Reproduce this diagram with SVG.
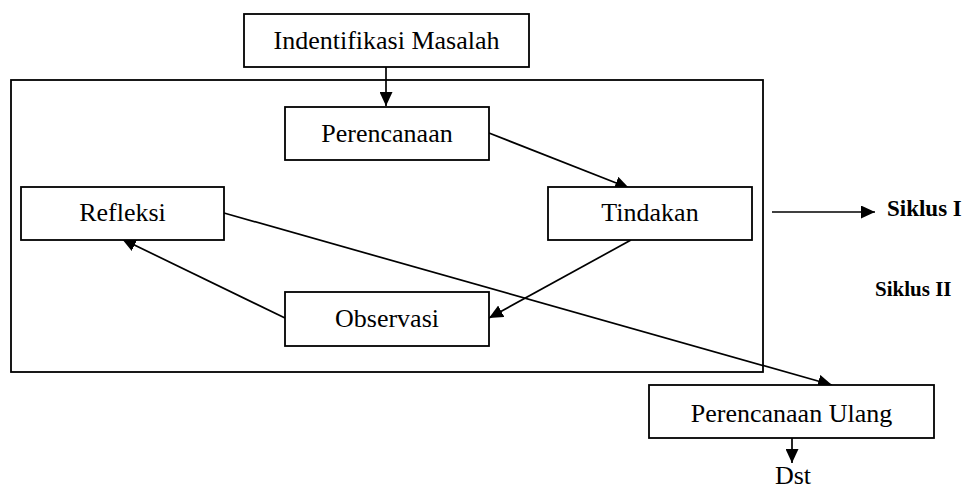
<svg xmlns="http://www.w3.org/2000/svg" width="967" height="489" viewBox="0 0 967 489">
<style>
.box{fill:#fff;stroke:#000;stroke-width:1.8}
.frame{fill:none;stroke:#000;stroke-width:1.8}
.t{font-family:"Liberation Serif","Times New Roman",serif;font-size:26px;fill:#000;text-anchor:middle}
.b{font-family:"Liberation Serif","Times New Roman",serif;font-weight:bold;fill:#000}
.c{stroke:#000;stroke-width:1.7;fill:none;marker-end:url(#ah)}
</style>
<defs>
<marker id="ah" markerUnits="userSpaceOnUse" markerWidth="15" markerHeight="13" refX="14" refY="6.5" orient="auto">
<path d="M0,0 L14,6.5 L0,13 z" fill="#000"/>
</marker>
</defs>
<rect width="967" height="489" fill="#fff"/>
<rect id="frame" class="frame" x="11" y="80" width="752" height="292"/>
<g id="connectors">
<line class="c" x1="386" y1="67" x2="386" y2="106"/>
<line class="c" x1="489" y1="133" x2="629" y2="188"/>
<line class="c" x1="631" y1="240" x2="489" y2="318"/>
<line class="c" x1="285" y1="318" x2="122" y2="239"/>
<line class="c" x1="224" y1="213" x2="832" y2="385"/>
<line class="c" x1="772" y1="212" x2="875" y2="212"/>
<line class="c" x1="792" y1="438" x2="792" y2="463"/>
</g>
<g id="indentifikasi">
<rect class="box" x="244" y="14" width="285" height="53"/>
<text class="t" x="386.5" y="49">Indentifikasi Masalah</text>
</g>
<g id="perencanaan">
<rect class="box" x="285" y="107" width="204" height="53"/>
<text class="t" x="387" y="142">Perencanaan</text>
</g>
<g id="refleksi">
<rect class="box" x="21" y="187" width="203" height="53"/>
<text class="t" x="122.5" y="221">Refleksi</text>
</g>
<g id="tindakan">
<rect class="box" x="548" y="187" width="204" height="53"/>
<text class="t" x="650" y="221">Tindakan</text>
</g>
<g id="observasi">
<rect class="box" x="285" y="292" width="204" height="54"/>
<text class="t" x="387" y="327">Observasi</text>
</g>
<g id="perencanaan-ulang">
<rect class="box" x="649" y="385" width="285" height="53"/>
<text class="t" x="791.5" y="422">Perencanaan Ulang</text>
</g>
<g id="dst">
<text class="t" x="793" y="484" font-size="25">Dst</text>
</g>
<g id="siklus-1">
<text class="b" x="887" y="216" font-size="23">Siklus I</text>
</g>
<g id="siklus-2">
<text class="b" x="875" y="296" font-size="21">Siklus II</text>
</g>
</svg>
